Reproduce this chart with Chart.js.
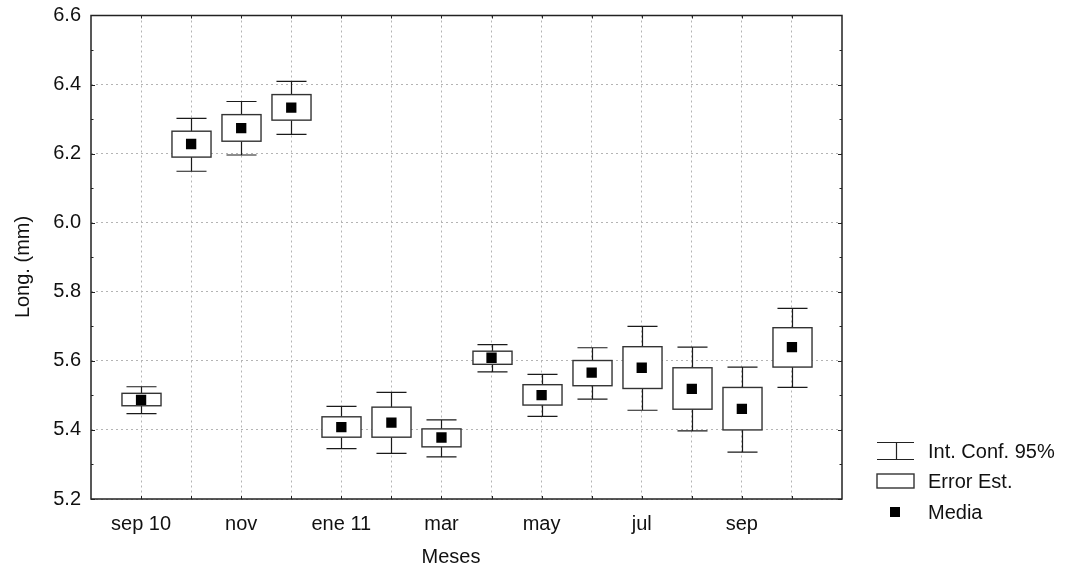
<!DOCTYPE html>
<html>
<head>
<meta charset="utf-8">
<script src="https://cdn.jsdelivr.net/npm/chart.js@4/dist/chart.umd.min.js"></script>
<style>
  html, body { margin: 0; padding: 0; background: #fff; }
  canvas { display: block; }
</style>
</head>
<body>
<canvas id="c" width="1073" height="569"></canvas>
<script>
// Monthly samples, Sep 2010 – Oct 2011
const categories = ['sep 10', 'oct', 'nov', 'dic', 'ene 11', 'feb', 'mar', 'abr', 'may', 'jun', 'jul', 'ago', 'sep', 'oct'];
const labelEvery = 2;

// Mean length (mm)
const means  = [5.487, 6.228, 6.274, 6.333, 5.408, 5.421, 5.378, 5.609, 5.501, 5.566, 5.580, 5.519, 5.461, 5.640];
// Mean ± standard error
const seLow  = [5.470, 6.190, 6.236, 6.297, 5.379, 5.379, 5.351, 5.590, 5.472, 5.528, 5.520, 5.460, 5.400, 5.582];
const seHigh = [5.506, 6.265, 6.313, 6.371, 5.438, 5.466, 5.403, 5.628, 5.531, 5.601, 5.641, 5.580, 5.523, 5.696];
// 95% confidence interval
const ciLow  = [5.447, 6.149, 6.196, 6.256, 5.346, 5.332, 5.322, 5.568, 5.439, 5.489, 5.457, 5.397, 5.336, 5.523];
const ciHigh = [5.525, 6.302, 6.351, 6.409, 5.468, 5.509, 5.429, 5.647, 5.561, 5.638, 5.700, 5.640, 5.582, 5.752];

const yMin = 5.2, yMax = 6.6, yStep = 0.2, yMinorStep = 0.1;

const legendItems = ['Int. Conf. 95%', 'Error Est.', 'Media'];
const xTitle = 'Meses';
const yTitle = 'Long. (mm)';

const FONT = "'Liberation Sans', Arial, sans-serif";
const FONT_SIZE = 20;
const GRID = { color: '#b4b4b4', lineWidth: 1, drawTicks: false };
const GRID_BORDER = { display: false, dash: [2, 3] };

// Whisker caps and SE boxes, drawn beneath the mean markers
const boxPlugin = {
  id: 'boxes',
  beforeDatasetsDraw(chart) {
    const { ctx, scales: { x, y } } = chart;
    const step = x.getPixelForValue(1) - x.getPixelForValue(0);
    const boxHalf = step * 0.39;
    const capHalf = step * 0.30;
    ctx.save();
    categories.forEach((_, i) => {
      const px = Math.round(x.getPixelForValue(i)) + 0.5;
      const yCiH = y.getPixelForValue(ciHigh[i]);
      const yCiL = y.getPixelForValue(ciLow[i]);
      const ySeH = y.getPixelForValue(seHigh[i]);
      const ySeL = y.getPixelForValue(seLow[i]);
      ctx.strokeStyle = '#1a1a1a';
      ctx.lineWidth = 1.2;
      ctx.beginPath();
      ctx.moveTo(px, yCiH); ctx.lineTo(px, ySeH);
      ctx.moveTo(px, ySeL); ctx.lineTo(px, yCiL);
      ctx.moveTo(px - capHalf, yCiH); ctx.lineTo(px + capHalf, yCiH);
      ctx.moveTo(px - capHalf, yCiL); ctx.lineTo(px + capHalf, yCiL);
      ctx.stroke();
      ctx.fillStyle = '#fff';
      ctx.fillRect(px - boxHalf, ySeH, boxHalf * 2, ySeL - ySeH);
      ctx.strokeStyle = '#333';
      ctx.lineWidth = 1.4;
      ctx.strokeRect(px - boxHalf, ySeH, boxHalf * 2, ySeL - ySeH);
    });
    ctx.restore();
  }
};

// Plot frame with inward ticks, axis titles and the legend
const framePlugin = {
  id: 'frame',
  afterDraw(chart) {
    const { ctx, chartArea: a, scales: { x, y } } = chart;
    ctx.save();
    ctx.strokeStyle = '#222';
    ctx.lineWidth = 1.5;
    ctx.strokeRect(a.left, a.top, a.right - a.left, a.bottom - a.top);

    ctx.lineWidth = 1;
    ctx.beginPath();
    const nMinor = Math.round((yMax - yMin) / yMinorStep);
    for (let k = 0; k <= nMinor; k++) {
      const v = yMin + k * yMinorStep;
      const py = Math.round(y.getPixelForValue(v)) + 0.5;
      const len = (k % 2 === 0) ? 4 : 2.5;
      ctx.moveTo(a.left, py); ctx.lineTo(a.left + len, py);
      ctx.moveTo(a.right, py); ctx.lineTo(a.right - len, py);
    }
    categories.forEach((_, i) => {
      const px = Math.round(x.getPixelForValue(i)) + 0.5;
      ctx.moveTo(px, a.bottom); ctx.lineTo(px, a.bottom - 3);
      ctx.moveTo(px, a.top); ctx.lineTo(px, a.top + 3);
    });
    ctx.stroke();

    ctx.fillStyle = '#111';
    ctx.font = FONT_SIZE + 'px ' + FONT;
    ctx.textAlign = 'center';
    ctx.textBaseline = 'middle';
    ctx.fillText(xTitle, 451, 557);
    ctx.save();
    ctx.translate(23, 267);
    ctx.rotate(-Math.PI / 2);
    ctx.fillText(yTitle, 0, 0);
    ctx.restore();

    // legend
    const lx = 877, lw = 37, tx = 928;
    const rows = [451, 481, 512];
    ctx.strokeStyle = '#222';
    ctx.lineWidth = 1.2;
    ctx.beginPath();
    const cx = Math.round(lx + lw / 2) + 0.5;
    ctx.moveTo(lx, rows[0] - 8.5); ctx.lineTo(lx + lw, rows[0] - 8.5);
    ctx.moveTo(lx, rows[0] + 8.5); ctx.lineTo(lx + lw, rows[0] + 8.5);
    ctx.moveTo(cx, rows[0] - 8.5); ctx.lineTo(cx, rows[0] + 8.5);
    ctx.stroke();
    ctx.lineWidth = 1.4;
    ctx.strokeStyle = '#333';
    ctx.strokeRect(lx, rows[1] - 7, lw, 14);
    ctx.fillStyle = '#000';
    ctx.fillRect(890, rows[2] - 5, 10, 10);

    ctx.fillStyle = '#111';
    ctx.textAlign = 'left';
    legendItems.forEach((t, i) => ctx.fillText(t, tx, rows[i] + 1));
    ctx.restore();
  }
};

new Chart(document.getElementById('c'), {
  type: 'scatter',
  data: {
    datasets: [{
      label: legendItems[2],
      data: means.map((m, i) => ({ x: i, y: m })),
      pointStyle: 'rect',
      pointRadius: 7.3,
      pointHoverRadius: 7.3,
      backgroundColor: '#000',
      borderWidth: 0
    }]
  },
  options: {
    responsive: false,
    animation: false,
    devicePixelRatio: 1,
    events: [],
    layout: { padding: { left: 0, top: 15.5, right: 231, bottom: 0 } },
    plugins: { legend: { display: false }, tooltip: { enabled: false } },
    scales: {
      x: {
        type: 'linear',
        min: -1,
        max: categories.length,
        afterBuildTicks(scale) {
          scale.ticks = categories.map((_, i) => ({ value: i }));
        },
        afterFit(scale) {
          scale.height = 70;
          scale.paddingLeft = 0;
          scale.paddingRight = 0;
        },
        border: GRID_BORDER,
        grid: GRID,
        ticks: {
          autoSkip: false,
          maxRotation: 0,
          padding: 13,
          color: '#111',
          font: { family: FONT, size: FONT_SIZE },
          callback: (v) => (v % labelEvery === 0 ? categories[v] : '')
        }
      },
      y: {
        min: yMin,
        max: yMax,
        afterFit(scale) {
          scale.width = 91;
          scale.paddingTop = 0;
          scale.paddingBottom = 0;
        },
        border: GRID_BORDER,
        grid: GRID,
        ticks: {
          stepSize: yStep,
          padding: 10,
          color: '#111',
          font: { family: FONT, size: FONT_SIZE },
          callback: (v) => v.toFixed(1)
        }
      }
    }
  },
  plugins: [boxPlugin, framePlugin]
});
</script>
</body>
</html>
